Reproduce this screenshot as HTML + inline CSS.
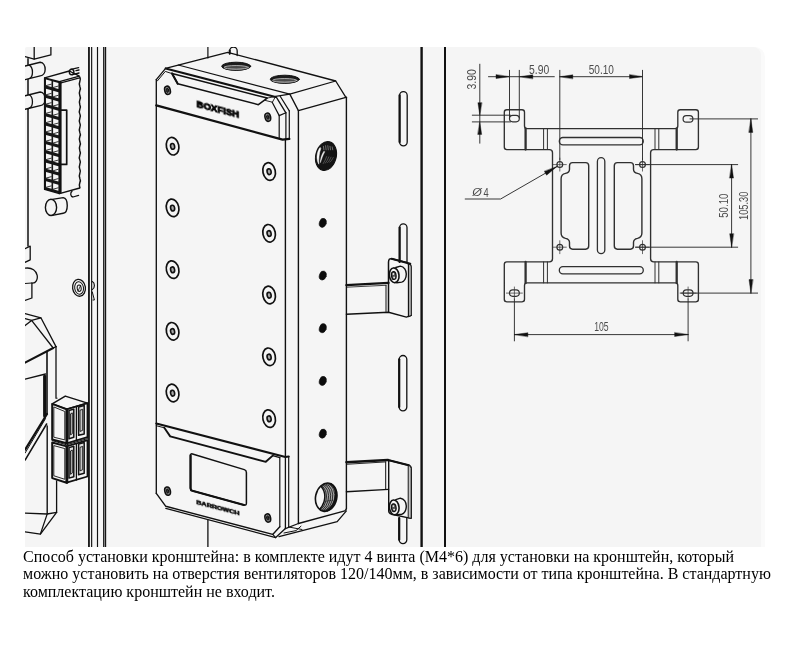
<!DOCTYPE html>
<html><head><meta charset="utf-8">
<style>
html,body{margin:0;padding:0;background:#fff;}
body{width:790px;height:647px;position:relative;overflow:hidden;font-family:"Liberation Serif",serif;}
#bg{position:absolute;left:25px;top:47px;width:740px;height:500px;background:#fafafa;border-radius:2px 10px 0 0;}
#bg2{position:absolute;left:25px;top:47px;width:735.5px;height:500px;background:#f5f5f5;border-radius:2px 8px 0 0;}
#cap{position:absolute;left:23px;top:547.6px;will-change:transform;width:767px;font-size:16px;line-height:17.4px;color:#000;margin:0;white-space:nowrap;}
svg{position:absolute;left:0;top:0;}
</style></head><body>
<div id="bg"></div><div id="bg2"></div>
<p id="cap">Способ установки кронштейна: в комплекте идут 4 винта (M4*6) для установки на кронштейн, который<br>можно установить на отверстия вентиляторов 120/140мм, в зависимости от типа кронштейна. В стандартную<br>комплектацию кронштейн не входит.</p>
<svg width="790" height="647" viewBox="0 0 790 647" fill="none" stroke="#111" stroke-width="1.2" stroke-linecap="round" stroke-linejoin="round">
<clipPath id="imgclip"><rect x="25" y="47" width="740" height="500"/></clipPath>
<g clip-path="url(#imgclip)">
<g id="panel-left">
<line x1="104.65" y1="47" x2="104.65" y2="547" stroke-width="0.8" stroke="#9a9a9a"/>
<line x1="88.95" y1="47" x2="88.95" y2="547" stroke-width="1.8"/>
<line x1="91.65" y1="47" x2="91.65" y2="547" stroke-width="1.15"/>
<line x1="97.5" y1="47" x2="97.5" y2="547" stroke-width="1.15"/>
<line x1="103.7" y1="47" x2="103.7" y2="547" stroke-width="1.2"/>
<line x1="105.6" y1="47" x2="105.6" y2="547" stroke-width="1.15"/>
</g>
<g id="panel-right">
<line x1="421.6" y1="47" x2="421.6" y2="547" stroke-width="2.4"/>
<line x1="445" y1="47" x2="445" y2="547" stroke-width="2.0"/>
<path d="M399.6,95.39999999999998 A3.799999999999983,3.799999999999983 0 0 1 407.2,95.39999999999998 V142.10000000000002 A3.799999999999983,3.799999999999983 0 0 1 399.6,142.10000000000002 Z" stroke-width="1.3"/>
<line x1="399.6" y1="95.39999999999998" x2="399.6" y2="142.10000000000002" stroke-width="2.2"/>
<path d="M399.6,262 V227.5 A3.6999999999999886,3.6999999999999886 0 0 1 407.0,227.5 V262" stroke-width="1.3"/>
<line x1="399.6" y1="227.5" x2="399.6" y2="262" stroke-width="2.2"/>
<path d="M399.2,359.3 A3.8000000000000114,3.8000000000000114 0 0 1 406.8,359.3 V407.09999999999997 A3.8000000000000114,3.8000000000000114 0 0 1 399.2,407.09999999999997 Z" stroke-width="1.3"/>
<line x1="399.2" y1="359.3" x2="399.2" y2="407.09999999999997" stroke-width="2.2"/>
<path d="M399.2,518 V539.8 A3.8000000000000114,3.8000000000000114 0 0 0 406.8,539.8 V518" stroke-width="1.3"/>
<line x1="399.2" y1="518" x2="399.2" y2="539.8" stroke-width="2.2"/>
</g>
<g id="behind">
<line x1="207.9" y1="47" x2="207.9" y2="58" stroke-width="1.2"/>
<path d="M229.7,54 V51 A3.75,3.9 0 0 1 237.2,51 V55.5" stroke-width="1.3"/>
<line x1="229.7" y1="50.5" x2="229.7" y2="53.5" stroke-width="2.0"/>
<line x1="207.9" y1="520.5" x2="207.9" y2="547" stroke-width="1.3"/>
</g>
<g id="box">
<path d="M156.3,79.6 L165.6,68.3 L227.7,52.3 L335.7,81 L345.9,97.3" stroke-width="1.3"/>
<path d="M157.3,81 L165.3,71.4 L172,73.6" stroke-width="1.0"/>
<path d="M178.2,65.05 L289.8,94.1 L335.7,81" stroke-width="1.15"/>
<path d="M165.7,68.4 L275.5,96.9" stroke-width="2.1"/>
<path d="M275.6,96.4 L289.8,94.1" stroke-width="1.2"/>
<path d="M172,73.4 L267.2,98.1 L258.4,104.7 L177.7,83.7 Z" stroke-width="1.5"/>
<path d="M172,73.4 L177.7,83.7" stroke-width="2.0"/>
<path d="M267.2,98.1 L275.6,96.4 M265.2,100.4 L272.4,102.2 L275.6,96.4" stroke-width="0.9"/>
<path d="M276.3,97.2 L285.9,112.8" stroke-width="1.3"/>
<path d="M280.2,96.2 L289.3,110.9" stroke-width="1.2"/>
<path d="M272.2,102.2 L279.2,115.6 L285.9,112.8" stroke-width="1.2"/>
<path d="M289.8,94.1 L298.4,110.6 L345.9,97.3" stroke-width="1.3"/>
<line x1="156.3" y1="79.6" x2="156.3" y2="493.4" stroke-width="1.35"/>
<line x1="279.2" y1="115.6" x2="279.2" y2="138.2" stroke-width="1.2"/>
<line x1="285.9" y1="112.8" x2="285.9" y2="139.2" stroke-width="1.2"/>
<line x1="285.4" y1="139" x2="285.4" y2="457" stroke-width="1.4"/>
<line x1="289.3" y1="110.9" x2="289.3" y2="139.0" stroke-width="1.2"/>
<line x1="298.4" y1="110.6" x2="298.4" y2="523.5" stroke-width="1.4"/>
<line x1="346.4" y1="97.3" x2="346.4" y2="508.8" stroke-width="1.4"/>
<path d="M156.3,105.3 L282.6,139.6 L289.3,138.8" stroke-width="2.3"/>
<ellipse cx="236.2" cy="66.3" rx="14.5" ry="4.1" stroke-width="1.0" fill="#1c1c1c"/>
<ellipse cx="236.2" cy="67.39999999999999" rx="12.2" ry="1.9" stroke-width="0.8" fill="#4a4a4a" stroke="#c4c4c4"/>
<path d="M228.2,68.5 A11,1.6 0 0 0 244.2,68.5" stroke-width="0.6" stroke="#9a9a9a"/>
<ellipse cx="284.8" cy="79.3" rx="14.5" ry="4.1" stroke-width="1.0" fill="#1c1c1c"/>
<ellipse cx="284.8" cy="80.39999999999999" rx="12.2" ry="1.9" stroke-width="0.8" fill="#4a4a4a" stroke="#c4c4c4"/>
<path d="M276.8,81.5 A11,1.6 0 0 0 292.8,81.5" stroke-width="0.6" stroke="#9a9a9a"/>
<ellipse cx="167.5" cy="90.3" rx="2.8" ry="4.2" stroke-width="1.5" fill="#8a8a8a" transform="rotate(-14 167.5 90.3)"/>
<ellipse cx="167.5" cy="90.3" rx="1.2" ry="2.1" stroke-width="0.9" fill="#333" transform="rotate(-14 167.5 90.3)"/>
<ellipse cx="267.8" cy="117.2" rx="2.8" ry="4.2" stroke-width="1.5" fill="#8a8a8a" transform="rotate(-14 267.8 117.2)"/>
<ellipse cx="267.8" cy="117.2" rx="1.2" ry="2.1" stroke-width="0.9" fill="#333" transform="rotate(-14 267.8 117.2)"/>
<ellipse cx="167.6" cy="491.1" rx="2.8" ry="4.2" stroke-width="1.5" fill="#8a8a8a" transform="rotate(-14 167.6 491.1)"/>
<ellipse cx="167.6" cy="491.1" rx="1.2" ry="2.1" stroke-width="0.9" fill="#333" transform="rotate(-14 167.6 491.1)"/>
<ellipse cx="267.8" cy="518" rx="2.8" ry="4.2" stroke-width="1.5" fill="#8a8a8a" transform="rotate(-14 267.8 518)"/>
<ellipse cx="267.8" cy="518" rx="1.2" ry="2.1" stroke-width="0.9" fill="#333" transform="rotate(-14 267.8 518)"/>
<ellipse cx="172.6" cy="146.2" rx="6.2" ry="8.9" stroke-width="1.7" transform="rotate(-12 172.6 146.2)"/>
<ellipse cx="172.6" cy="146.39999999999998" rx="2.0" ry="2.9" stroke-width="1.6" fill="#aaa" transform="rotate(-12 172.6 146.39999999999998)"/>
<ellipse cx="172.6" cy="207.9" rx="6.2" ry="8.9" stroke-width="1.7" transform="rotate(-12 172.6 207.9)"/>
<ellipse cx="172.6" cy="208.1" rx="2.0" ry="2.9" stroke-width="1.6" fill="#aaa" transform="rotate(-12 172.6 208.1)"/>
<ellipse cx="172.6" cy="269.6" rx="6.2" ry="8.9" stroke-width="1.7" transform="rotate(-12 172.6 269.6)"/>
<ellipse cx="172.6" cy="269.8" rx="2.0" ry="2.9" stroke-width="1.6" fill="#aaa" transform="rotate(-12 172.6 269.8)"/>
<ellipse cx="172.6" cy="331.3" rx="6.2" ry="8.9" stroke-width="1.7" transform="rotate(-12 172.6 331.3)"/>
<ellipse cx="172.6" cy="331.5" rx="2.0" ry="2.9" stroke-width="1.6" fill="#aaa" transform="rotate(-12 172.6 331.5)"/>
<ellipse cx="172.6" cy="393.0" rx="6.2" ry="8.9" stroke-width="1.7" transform="rotate(-12 172.6 393.0)"/>
<ellipse cx="172.6" cy="393.2" rx="2.0" ry="2.9" stroke-width="1.6" fill="#aaa" transform="rotate(-12 172.6 393.2)"/>
<ellipse cx="269.1" cy="171.5" rx="6.2" ry="8.9" stroke-width="1.7" transform="rotate(-12 269.1 171.5)"/>
<ellipse cx="269.1" cy="171.7" rx="2.0" ry="2.9" stroke-width="1.6" fill="#aaa" transform="rotate(-12 269.1 171.7)"/>
<ellipse cx="269.1" cy="233.3" rx="6.2" ry="8.9" stroke-width="1.7" transform="rotate(-12 269.1 233.3)"/>
<ellipse cx="269.1" cy="233.5" rx="2.0" ry="2.9" stroke-width="1.6" fill="#aaa" transform="rotate(-12 269.1 233.5)"/>
<ellipse cx="269.1" cy="295.0" rx="6.2" ry="8.9" stroke-width="1.7" transform="rotate(-12 269.1 295.0)"/>
<ellipse cx="269.1" cy="295.2" rx="2.0" ry="2.9" stroke-width="1.6" fill="#aaa" transform="rotate(-12 269.1 295.2)"/>
<ellipse cx="269.1" cy="356.8" rx="6.2" ry="8.9" stroke-width="1.7" transform="rotate(-12 269.1 356.8)"/>
<ellipse cx="269.1" cy="357.0" rx="2.0" ry="2.9" stroke-width="1.6" fill="#aaa" transform="rotate(-12 269.1 357.0)"/>
<ellipse cx="269.1" cy="418.6" rx="6.2" ry="8.9" stroke-width="1.7" transform="rotate(-12 269.1 418.6)"/>
<ellipse cx="269.1" cy="418.8" rx="2.0" ry="2.9" stroke-width="1.6" fill="#aaa" transform="rotate(-12 269.1 418.8)"/>
<ellipse cx="322.8" cy="222.8" rx="3.4" ry="4.6" stroke-width="0.6" fill="#0c0c0c" transform="rotate(18 322.8 222.8)"/>
<ellipse cx="322.8" cy="275.5" rx="3.4" ry="4.6" stroke-width="0.6" fill="#0c0c0c" transform="rotate(18 322.8 275.5)"/>
<ellipse cx="322.8" cy="328.2" rx="3.4" ry="4.6" stroke-width="0.6" fill="#0c0c0c" transform="rotate(18 322.8 328.2)"/>
<ellipse cx="322.8" cy="380.9" rx="3.4" ry="4.6" stroke-width="0.6" fill="#0c0c0c" transform="rotate(18 322.8 380.9)"/>
<ellipse cx="322.8" cy="433.6" rx="3.4" ry="4.6" stroke-width="0.6" fill="#0c0c0c" transform="rotate(18 322.8 433.6)"/>
<ellipse cx="326" cy="156" rx="10.3" ry="14.6" stroke-width="1.0" fill="#141414" transform="rotate(14 326 156)"/>
<path d="M319.8,147.8 C316.4,153 316.2,159.5 318.8,164.2 C318.6,159 319,153 320.8,148.4 Z" stroke-width="0.5" fill="#fafafa" stroke="#fafafa"/>
<path d="M323.8,151.4 C321.4,155 320.4,159 320.4,162.6 C321.6,159 322.8,155 324.6,152 Z" stroke-width="0.5" fill="#f0f0f0" stroke="#f0f0f0"/>
<path d="M323.4,146.3 L323.9,149.8" stroke-width="0.55" stroke="#b5b5b5"/>
<path d="M325.59999999999997,145.70000000000002 L326.09999999999997,149.8" stroke-width="0.55" stroke="#b5b5b5"/>
<path d="M327.79999999999995,145.70000000000002 L328.29999999999995,149.8" stroke-width="0.55" stroke="#b5b5b5"/>
<path d="M330.0,146.3 L330.5,149.8" stroke-width="0.55" stroke="#b5b5b5"/>
<path d="M332.2,146.9 L332.7,149.8" stroke-width="0.55" stroke="#b5b5b5"/>
<path d="M326.6,156.6 C325.8,159 324.6,161.5 323.20000000000005,163.6" stroke-width="0.5" stroke="#8a8a8a"/>
<path d="M328.8,156.9 C328.0,159 326.8,161.5 325.40000000000003,163.1" stroke-width="0.5" stroke="#8a8a8a"/>
<path d="M331.0,157.2 C330.2,159 329.0,161.5 327.6,162.6" stroke-width="0.5" stroke="#8a8a8a"/>
<path d="M333.20000000000005,157.5 C332.40000000000003,159 331.20000000000005,161.5 329.80000000000007,162.1" stroke-width="0.5" stroke="#8a8a8a"/>
<clipPath id="cp2"><ellipse cx="326.2" cy="497.2" rx="10.6" ry="14.3" transform="rotate(12 326.2 497.2)"/></clipPath>
<g clip-path="url(#cp2)">
<ellipse cx="326.2" cy="497.2" rx="10.6" ry="14.3" stroke-width="0.1" fill="#a4a4a4" transform="rotate(12 326.2 497.2)"/>
<ellipse cx="313.8" cy="498.8" rx="10.6" ry="14.6" stroke-width="1.4" fill="#f5f5f5" transform="rotate(16 313.8 498.8)"/>
<ellipse cx="324.09999999999997" cy="497.45" rx="10.6" ry="14.3" stroke-width="0.8" stroke="#1a1a1a" transform="rotate(12.6 324.09999999999997 497.45)"/>
<ellipse cx="322.0" cy="497.7" rx="10.6" ry="14.3" stroke-width="0.8" stroke="#1a1a1a" transform="rotate(13.2 322.0 497.7)"/>
<ellipse cx="319.9" cy="497.95" rx="10.6" ry="14.3" stroke-width="0.8" stroke="#1a1a1a" transform="rotate(13.8 319.9 497.95)"/>
<ellipse cx="317.8" cy="498.2" rx="10.6" ry="14.3" stroke-width="0.8" stroke="#1a1a1a" transform="rotate(14.4 317.8 498.2)"/>
<ellipse cx="315.7" cy="498.45" rx="10.6" ry="14.3" stroke-width="0.8" stroke="#1a1a1a" transform="rotate(15.0 315.7 498.45)"/>
</g>
<ellipse cx="326.2" cy="497.2" rx="10.6" ry="14.3" stroke-width="1.6" transform="rotate(12 326.2 497.2)"/>
<path d="M330.7,483.8 C338.7,489.2 337.7,503.2 327.2,510.8" stroke-width="2.0"/>
<path d="M156.3,423.5 L285.4,457 L288.7,456.5" stroke-width="2.1"/>
<path d="M156.3,425.7 L164.3,427.8" stroke-width="1.0"/>
<path d="M164.3,427.8 L170.2,436.4 L265.8,461.8 L272.7,455.6" stroke-width="1.9"/>
<path d="M272.7,455.6 L279.8,457.6" stroke-width="1.2"/>
<line x1="279.8" y1="457.6" x2="279.8" y2="526.8" stroke-width="1.2"/>
<line x1="285.4" y1="457" x2="285.4" y2="528.6" stroke-width="1.3"/>
<line x1="288.7" y1="456.5" x2="288.7" y2="527" stroke-width="1.2"/>
<path d="M156.3,493.4 L165.8,506.3 L272.7,534.4 L279.8,526.8" stroke-width="1.4"/>
<path d="M165.8,508.4 L275.7,537.6 L285.4,528.6" stroke-width="1.3"/>
<path d="M272.7,534.4 L275.7,537.6" stroke-width="1.2"/>
<path d="M285.4,528.6 L298.4,523.5" stroke-width="1.2"/>
<path d="M279,536.6 L337.2,521.6 L346.4,510.9" stroke-width="1.3"/>
<path d="M298.4,523.5 L344.8,510.9 L346.4,508.8" stroke-width="1.3"/>
<path d="M288.7,527 L302,529.5 M284,533 L296,530.6 L301,526.2" stroke-width="1.0"/>
<path d="M192.5,454.0 L244.3,469.6 Q246.4,470.3 246.4,472.5 L246.4,503.2 Q246.4,505.6 244,505.0 L192.3,490.8 Q190.4,490.2 190.4,488.2 L190.4,455.4 Q190.4,453.4 192.5,454.0 Z" stroke-width="1.5"/>
<path d="M190.6,455.4 V488.2 Q190.6,490.2 192.3,490.8 L244,505" stroke-width="2.2"/>
</g>
<g id="boxtext" opacity="0.99" stroke="none" fill="#111" font-family="&quot;Liberation Sans&quot;,sans-serif" font-weight="bold">
<text transform="translate(196.6,106.9) skewY(14.4)" font-size="9.1" textLength="42.6" lengthAdjust="spacingAndGlyphs" stroke="#000" stroke-width="0.9" stroke-linejoin="miter">BOXFISH</text>
<text transform="translate(196.4,504.0) skewY(14.7)" font-size="4.7" textLength="43" lengthAdjust="spacingAndGlyphs" stroke="#111" stroke-width="0.55">BARROWCH</text>
</g>
<g id="brackets">
<path d="M346.4,285.1 L388.5,282.9" stroke-width="2.3"/>
<path d="M346.4,287.2 L386,285.3" stroke-width="0.8"/>
<line x1="386" y1="285.3" x2="386" y2="311.5" stroke-width="1.0"/>
<path d="M346.4,314.3 L388.5,312.2 L406.4,317.1 L411.2,315.4" stroke-width="1.4"/>
<path d="M388.5,312 L388.5,262.2 Q388.6,258.2 391.6,258.7 L407.2,262.8 Q408.6,263.4 408.6,265.4 L408.6,316.4" stroke-width="1.5"/>
<path d="M391.6,258.7 L410.3,263.7" stroke-width="2.0"/>
<path d="M408.6,263.6 Q411.3,264.4 411.3,266.8 L411.3,315.4 L408.6,316.4 Z" stroke-width="1.1" fill="#c4c4c4"/>
<path d="M395.8,267.5 L400.4,266.1 C404.2,266.5 406.3,270.3 406.3,273.90000000000003 C406.3,278.3 404.2,281.7 401.7,282.1 L396.7,282.7" stroke-width="1.4"/>
<ellipse cx="394.2" cy="275.3" rx="4.8" ry="7.4" stroke-width="1.6" fill="#f5f5f5" transform="rotate(-6 394.2 275.3)"/>
<ellipse cx="393.8" cy="275.6" rx="2.3" ry="3.9" stroke-width="1.2" fill="#555" transform="rotate(-6 393.8 275.6)"/>
<circle cx="393.4" cy="274.0" r="0.9" fill="#eee" stroke="none"/><circle cx="394.09999999999997" cy="277.5" r="0.9" fill="#eee" stroke="none"/>
<path d="M346.4,462.3 L388,460.0" stroke-width="2.4"/>
<path d="M388,460.0 L408.8,465.3" stroke-width="2.2"/>
<path d="M346.4,464.3 L385.7,461.9" stroke-width="0.9"/>
<line x1="385.7" y1="461.9" x2="385.7" y2="488.9" stroke-width="1.0"/>
<path d="M346.4,491.8 L388.6,489.4" stroke-width="1.4"/>
<path d="M388,460.0 L408.6,465.3 Q411.2,466.0 411.2,468.6 L411.2,518.3 L408.6,517.9 L391.4,514.2 Q388.7,513.4 388.7,510.8 L388.7,460" stroke-width="1.4"/>
<path d="M408.6,465.3 Q411.2,466.0 411.2,468.6 L411.2,518.3 L408.6,517.9 Z" stroke-width="1.0" fill="#c4c4c4"/>
<path d="M395.8,499.59999999999997 L400.4,498.2 C404.2,498.59999999999997 406.3,502.4 406.3,506.0 C406.3,510.4 404.2,513.8 401.7,514.1999999999999 L396.7,514.8" stroke-width="1.4"/>
<ellipse cx="394.2" cy="507.4" rx="4.8" ry="7.4" stroke-width="1.6" fill="#f5f5f5" transform="rotate(-6 394.2 507.4)"/>
<ellipse cx="393.8" cy="507.7" rx="2.3" ry="3.9" stroke-width="1.2" fill="#555" transform="rotate(-6 393.8 507.7)"/>
<circle cx="393.4" cy="506.09999999999997" r="0.9" fill="#eee" stroke="none"/><circle cx="394.09999999999997" cy="509.59999999999997" r="0.9" fill="#eee" stroke="none"/>
</g>
<g id="pcb">
<path d="M34.2,47 V59.2 L50.9,54.9 V47" stroke-width="1.3"/>
<path d="M25,56.7 L34.2,59.2" stroke-width="1.3"/>
<line x1="28" y1="58.8" x2="28" y2="64.5" stroke-width="1.5"/>
<line x1="28" y1="79.6" x2="28" y2="94.5" stroke-width="1.5"/>
<line x1="28" y1="109.3" x2="28" y2="246" stroke-width="1.5"/>
<path d="M25,66 L40.2,62.3 C46.8,63 46.8,75.4 40.2,75.9 L25,79.6" stroke-width="1.4"/>
<path d="M29.3,65.1 C33.5,67.5 33.5,77 29.3,78.5" stroke-width="1.3"/>
<path d="M25,95.7 L40.2,92.0 C46.8,92.7 46.8,105.10000000000001 40.2,105.60000000000001 L25,109.3" stroke-width="1.4"/>
<path d="M29.3,94.8 C33.5,97.2 33.5,106.7 29.3,108.2" stroke-width="1.3"/>
<path d="M52.3,199.4 L63.2,197.6 C68.6,198.4 68.6,212.4 63.2,213.2 L52.3,215.4" stroke-width="1.4"/>
<ellipse cx="51" cy="207.4" rx="5.6" ry="8.1" stroke-width="1.4"/>
<path d="M25,248.7 L30.2,246.2 V259.8 L25,262.3" stroke-width="1.3"/>
<path d="M25,268.2 C40,266 40,284 31.9,283 V298 L25,300.4" stroke-width="1.3"/>
<path d="M25,283.5 L31.9,283" stroke-width="1.0"/>
<ellipse cx="79" cy="287.8" rx="6.4" ry="8.5" stroke-width="1.3" transform="rotate(-8 79 287.8)"/>
<ellipse cx="79.1" cy="288" rx="4.4" ry="6.2" stroke-width="1.0" transform="rotate(-8 79.1 288)"/>
<ellipse cx="79.2" cy="288.2" rx="2.0" ry="3.2" stroke-width="1.0" transform="rotate(-8 79.2 288.2)"/>
<line x1="78" y1="291" x2="80.6" y2="285.6" stroke-width="0.8"/>
<path d="M92.3,281.5 A3,4.2 0 0 1 92.3,289.5" stroke-width="1.2"/>
<path d="M92.3,292 L94.4,300 L93,300" stroke-width="1.0"/>
<path d="M44.6,77.9 L59.4,81.7 L59.4,193.6 L44.6,189.4 Z" fill="#161616" stroke="#111" stroke-width="1.4"/>
<path d="M46.0,79.6 L51.5,81.0 L51.5,87.0 L46.0,85.6 Z" fill="#f5f5f5" stroke="none"/>
<path d="M46.0,85.6 L51.2,84.2" stroke="#222" stroke-width="0.9"/>
<path d="M53.1,81.5 L58.4,82.9 L58.4,88.9 L53.1,87.5 Z" fill="#f5f5f5" stroke="none"/>
<path d="M53.2,87.5 L58.2,86.1" stroke="#222" stroke-width="0.9"/>
<path d="M46.0,88.8 L51.5,90.2 L51.5,96.2 L46.0,94.8 Z" fill="#f5f5f5" stroke="none"/>
<path d="M46.0,94.8 L51.2,93.4" stroke="#222" stroke-width="0.9"/>
<path d="M53.1,90.8 L58.4,92.2 L58.4,98.2 L53.1,96.8 Z" fill="#f5f5f5" stroke="none"/>
<path d="M53.2,96.8 L58.2,95.3" stroke="#222" stroke-width="0.9"/>
<path d="M46.0,98.1 L51.5,99.5 L51.5,105.5 L46.0,104.1 Z" fill="#f5f5f5" stroke="none"/>
<path d="M46.0,104.1 L51.2,102.7" stroke="#222" stroke-width="0.9"/>
<path d="M53.1,100.0 L58.4,101.4 L58.4,107.4 L53.1,106.0 Z" fill="#f5f5f5" stroke="none"/>
<path d="M53.2,106.0 L58.2,104.6" stroke="#222" stroke-width="0.9"/>
<path d="M46.0,107.3 L51.5,108.8 L51.5,114.8 L46.0,113.3 Z" fill="#f5f5f5" stroke="none"/>
<path d="M46.0,113.3 L51.2,111.9" stroke="#222" stroke-width="0.9"/>
<path d="M53.1,109.2 L58.4,110.7 L58.4,116.7 L53.1,115.2 Z" fill="#f5f5f5" stroke="none"/>
<path d="M53.2,115.2 L58.2,113.8" stroke="#222" stroke-width="0.9"/>
<path d="M46.0,116.6 L51.5,118.0 L51.5,124.0 L46.0,122.6 Z" fill="#f5f5f5" stroke="none"/>
<path d="M46.0,122.6 L51.2,121.2" stroke="#222" stroke-width="0.9"/>
<path d="M53.1,118.5 L58.4,119.9 L58.4,125.9 L53.1,124.5 Z" fill="#f5f5f5" stroke="none"/>
<path d="M53.2,124.5 L58.2,123.1" stroke="#222" stroke-width="0.9"/>
<path d="M46.0,125.8 L51.5,127.2 L51.5,133.2 L46.0,131.8 Z" fill="#f5f5f5" stroke="none"/>
<path d="M46.0,131.8 L51.2,130.4" stroke="#222" stroke-width="0.9"/>
<path d="M53.1,127.8 L58.4,129.2 L58.4,135.2 L53.1,133.8 Z" fill="#f5f5f5" stroke="none"/>
<path d="M53.2,133.8 L58.2,132.3" stroke="#222" stroke-width="0.9"/>
<path d="M46.0,135.1 L51.5,136.5 L51.5,142.5 L46.0,141.1 Z" fill="#f5f5f5" stroke="none"/>
<path d="M46.0,141.1 L51.2,139.7" stroke="#222" stroke-width="0.9"/>
<path d="M53.1,137.0 L58.4,138.4 L58.4,144.4 L53.1,143.0 Z" fill="#f5f5f5" stroke="none"/>
<path d="M53.2,143.0 L58.2,141.6" stroke="#222" stroke-width="0.9"/>
<path d="M46.0,144.3 L51.5,145.8 L51.5,151.8 L46.0,150.3 Z" fill="#f5f5f5" stroke="none"/>
<path d="M46.0,150.3 L51.2,148.9" stroke="#222" stroke-width="0.9"/>
<path d="M53.1,146.2 L58.4,147.7 L58.4,153.7 L53.1,152.2 Z" fill="#f5f5f5" stroke="none"/>
<path d="M53.2,152.2 L58.2,150.8" stroke="#222" stroke-width="0.9"/>
<path d="M46.0,153.6 L51.5,155.0 L51.5,161.0 L46.0,159.6 Z" fill="#f5f5f5" stroke="none"/>
<path d="M46.0,159.6 L51.2,158.2" stroke="#222" stroke-width="0.9"/>
<path d="M53.1,155.5 L58.4,156.9 L58.4,162.9 L53.1,161.5 Z" fill="#f5f5f5" stroke="none"/>
<path d="M53.2,161.5 L58.2,160.1" stroke="#222" stroke-width="0.9"/>
<path d="M46.0,162.8 L51.5,164.2 L51.5,170.2 L46.0,168.8 Z" fill="#f5f5f5" stroke="none"/>
<path d="M46.0,168.8 L51.2,167.4" stroke="#222" stroke-width="0.9"/>
<path d="M53.1,164.8 L58.4,166.2 L58.4,172.2 L53.1,170.8 Z" fill="#f5f5f5" stroke="none"/>
<path d="M53.2,170.8 L58.2,169.3" stroke="#222" stroke-width="0.9"/>
<path d="M46.0,172.1 L51.5,173.5 L51.5,179.5 L46.0,178.1 Z" fill="#f5f5f5" stroke="none"/>
<path d="M46.0,178.1 L51.2,176.7" stroke="#222" stroke-width="0.9"/>
<path d="M53.1,174.0 L58.4,175.4 L58.4,181.4 L53.1,180.0 Z" fill="#f5f5f5" stroke="none"/>
<path d="M53.2,180.0 L58.2,178.6" stroke="#222" stroke-width="0.9"/>
<path d="M46.0,181.3 L51.5,182.8 L51.5,188.8 L46.0,187.3 Z" fill="#f5f5f5" stroke="none"/>
<path d="M46.0,187.3 L51.2,185.9" stroke="#222" stroke-width="0.9"/>
<path d="M53.1,183.2 L58.4,184.7 L58.4,190.7 L53.1,189.2 Z" fill="#f5f5f5" stroke="none"/>
<path d="M53.2,189.2 L58.2,187.8" stroke="#222" stroke-width="0.9"/>
<path d="M44.6,77.9 L69.3,71 L79.4,76.2 L59.4,81.7" stroke-width="1.4"/>
<path d="M60,83.2 L79.6,77.8" stroke-width="1.2"/>
<line x1="60.8" y1="82" x2="60.8" y2="193" stroke-width="1.6"/>
<path d="M79.8,77 q1.1,2.3 0,4.6 q-0.9,2.3 0,4.6 q1.1,2.3 0,4.6 q-0.9,2.3 0,4.6 q1.1,2.3 0,4.6 q-0.9,2.3 0,4.6 q1.1,2.3 0,4.6 q-0.9,2.3 0,4.6 q1.1,2.3 0,4.6 q-0.9,2.3 0,4.6 q1.1,2.3 0,4.6 q-0.9,2.3 0,4.6 q1.1,2.3 0,4.6 q-0.9,2.3 0,4.6 q1.1,2.3 0,4.6 q-0.9,2.3 0,4.6 q1.1,2.3 0,4.6 q-0.9,2.3 0,4.6 q1.1,2.3 0,4.6 q-0.9,2.3 0,4.6 q1.1,2.3 0,4.6 q-0.9,2.3 0,4.6 q1.1,2.3 0,4.6 q-0.9,2.3 0,4.6" stroke-width="1.5"/>
<path d="M59.4,193.6 L79.8,188" stroke-width="1.5"/>
<path d="M61.2,110.2 H66.7 V164.4 H61.2" stroke-width="1.7"/>
<path d="M71,69.4 L78.6,67.6 M72.6,74.6 L79,73 M76,70.6 L79,70 " stroke-width="1.4"/>
<ellipse cx="71.6" cy="72" rx="2.3" ry="2.8" stroke-width="1.4"/>
<path d="M72,191.2 C70,193 70.4,196.6 73,197 L78.6,195.4" stroke-width="1.3"/>
<path d="M25.1,313.6 L40.9,317.8 L56,346.6" stroke-width="1.3"/>
<path d="M25.1,318.6 L31.6,320.4 L40.9,317.8" stroke-width="1.2"/>
<path d="M25.1,325.6 L31.6,320.4 L53.2,348 L56,346.6" stroke-width="1.3"/>
<path d="M25.1,362.6 L53.2,348" stroke-width="2.0"/>
<line x1="56" y1="346.6" x2="56" y2="398.2" stroke-width="1.3"/>
<line x1="47" y1="352.6" x2="47" y2="414" stroke-width="1.6"/>
<path d="M25.1,379.2 L45.5,374" stroke-width="1.3"/>
<line x1="44.6" y1="376" x2="44.6" y2="416" stroke-width="3.0"/>
<path d="M47,414 L25.1,449.6" stroke-width="2.2"/>
<path d="M45.5,418.6 L25.1,453" stroke-width="1.0"/>
<path d="M46.6,424 L25.1,460" stroke-width="1.5"/>
<line x1="47.2" y1="426" x2="47.2" y2="513.4" stroke-width="1.4"/>
<line x1="56.6" y1="480.8" x2="56.6" y2="512.3" stroke-width="1.3"/>
<path d="M25.1,513.1 L47.2,514 L56.6,512.3" stroke-width="1.3"/>
<path d="M47.2,514 L40.4,534" stroke-width="1.2"/>
<path d="M56.6,512.3 L40.4,534.2 L25.1,531.8" stroke-width="1.3"/>
<path d="M52.2,442.5 L66.6,446.4 L66.6,482.7 L52.2,478.1 Z" stroke-width="2.0" fill="#f5f5f5"/>
<path d="M66.6,446.4 L87.5,440.2 L87.5,476.5 L66.6,482.7 Z" stroke-width="1.8" fill="#f5f5f5"/>
<line x1="67.19999999999999" y1="446.4" x2="67.19999999999999" y2="482.7" stroke-width="2.2"/>
<path d="M54.2,445.7 L64.8,448.59999999999997 L64.8,479.3 L54.2,475.90000000000003 Z" stroke-width="0.9"/>
<path d="M69.0,447.59999999999997 L73.8,446.2 V476.7 L69.0,478.09999999999997 Z" stroke-width="1.5" fill="#e0e0e0"/>
<path d="M70.8,450.79999999999995 L72.3,449.99999999999994 V473.09999999999997 L70.8,474.09999999999997 Z" stroke-width="0.9" fill="#c8c8c8"/>
<path d="M78.6,444.0 L84.2,442.6 V473.3 L78.6,474.7 Z" stroke-width="1.5" fill="#e0e0e0"/>
<path d="M80.39999999999999,447.2 L82.7,446.4 V469.7 L80.39999999999999,470.7 Z" stroke-width="0.9" fill="#c8c8c8"/>
<line x1="76.4" y1="443.59999999999997" x2="76.4" y2="480.09999999999997" stroke-width="1.3"/>
<path d="M52.2,440.6 L66.6,444.8 L87.5,438.6" stroke-width="1.0"/>
<path d="M52.2,403.9 L65.3,396.09999999999997 L87.5,403.1 L66.6,409.3 Z" stroke-width="1.5" fill="#f5f5f5"/>
<path d="M52.2,403.9 L66.6,409.3 L66.6,443.3 L52.2,439.5 Z" stroke-width="2.0" fill="#f5f5f5"/>
<path d="M66.6,409.3 L87.5,403.1 L87.5,437.1 L66.6,443.3 Z" stroke-width="1.8" fill="#f5f5f5"/>
<line x1="67.19999999999999" y1="409.3" x2="67.19999999999999" y2="443.3" stroke-width="2.2"/>
<path d="M54.2,407.09999999999997 L64.8,411.5 L64.8,439.90000000000003 L54.2,437.3 Z" stroke-width="0.9"/>
<path d="M69.0,410.5 L73.8,409.1 V437.3 L69.0,438.7 Z" stroke-width="1.5" fill="#e0e0e0"/>
<path d="M70.8,413.7 L72.3,412.9 V433.7 L70.8,434.7 Z" stroke-width="0.9" fill="#c8c8c8"/>
<path d="M78.6,406.90000000000003 L84.2,405.50000000000006 V433.90000000000003 L78.6,435.3 Z" stroke-width="1.5" fill="#e0e0e0"/>
<path d="M80.39999999999999,410.1 L82.7,409.3 V430.3 L80.39999999999999,431.3 Z" stroke-width="0.9" fill="#c8c8c8"/>
<line x1="76.4" y1="406.5" x2="76.4" y2="440.7" stroke-width="1.3"/>
<path d="M57.1,398.2 L56.6,398.2" stroke-width="1.0"/>
</g>
<g id="dwg" stroke="#303030" stroke-width="1.15">
<path d="M506.8,109.7 H522.0 Q524.5,109.7 524.5,112.2 V126.1 Q524.5,128.6 527.0,128.6 H675.3 Q677.8,128.6 677.8,126.1 V112.2 Q677.8,109.7 680.3,109.7 H695.9 Q698.4,109.7 698.4,112.2 V147.1 Q698.4,149.6 695.9,149.6 H653.7 Q650.6,149.6 650.6,152.7 V258.79999999999995 Q650.6,261.9 653.7,261.9 H695.9 Q698.4,261.9 698.4,264.4 V299.3 Q698.4,301.8 695.9,301.8 H680.3 Q677.8,301.8 677.8,299.3 V285.4 Q677.8,282.9 675.3,282.9 H527.0 Q524.5,282.9 524.5,285.4 V299.3 Q524.5,301.8 522.0,301.8 H506.8 Q504.3,301.8 504.3,299.3 V264.4 Q504.3,261.9 506.8,261.9 H549.4 Q552.5,261.9 552.5,258.79999999999995 V152.7 Q552.5,149.6 549.4,149.6 H506.8 Q504.3,149.6 504.3,147.1 V112.2 Q504.3,109.7 506.8,109.7 Z" stroke-width="1.35"/>
<line x1="543.6" y1="128.6" x2="543.6" y2="149.6" stroke-width="1.0"/>
<line x1="547.4" y1="128.6" x2="547.4" y2="149.6" stroke-width="1.0"/>
<line x1="655" y1="128.6" x2="655" y2="149.6" stroke-width="1.0"/>
<line x1="658.8" y1="128.6" x2="658.8" y2="149.6" stroke-width="1.0"/>
<line x1="525.6" y1="128.6" x2="525.6" y2="149.6" stroke-width="2.3"/>
<line x1="676.7" y1="128.6" x2="676.7" y2="149.6" stroke-width="2.3"/>
<line x1="543.6" y1="261.9" x2="543.6" y2="282.9" stroke-width="1.0"/>
<line x1="547.4" y1="261.9" x2="547.4" y2="282.9" stroke-width="1.0"/>
<line x1="655" y1="261.9" x2="655" y2="282.9" stroke-width="1.0"/>
<line x1="658.8" y1="261.9" x2="658.8" y2="282.9" stroke-width="1.0"/>
<line x1="525.6" y1="261.9" x2="525.6" y2="282.9" stroke-width="2.3"/>
<line x1="676.7" y1="261.9" x2="676.7" y2="282.9" stroke-width="2.3"/>
<rect x="509.5" y="115.39999999999999" width="9.8" height="6.4" rx="3.2" stroke-width="1.2"/>
<rect x="683.1" y="115.7" width="9.8" height="6.4" rx="3.2" stroke-width="1.2"/>
<rect x="509.5" y="289.90000000000003" width="9.8" height="6.4" rx="3.2" stroke-width="1.2"/>
<rect x="683.2" y="289.90000000000003" width="9.8" height="6.4" rx="3.2" stroke-width="1.2"/>
<line x1="506.4" y1="293.1" x2="522.4" y2="293.1" stroke-width="0.7"/>
<line x1="514.4" y1="287" x2="514.4" y2="299" stroke-width="0.7"/>
<line x1="680.1" y1="293.1" x2="696.1" y2="293.1" stroke-width="0.7"/>
<line x1="688.1" y1="287" x2="688.1" y2="299" stroke-width="0.7"/>
<path d="M562.9499999999999,137.5 H639.65 A3.6500000000000057,3.6500000000000057 0 0 1 639.65,144.8 H562.9499999999999 A3.6500000000000057,3.6500000000000057 0 0 1 562.9499999999999,137.5 Z" stroke-width="1.3"/>
<path d="M562.9,266.7 H639.6999999999999 A3.5999999999999943,3.5999999999999943 0 0 1 639.6999999999999,273.9 H562.9 A3.5999999999999943,3.5999999999999943 0 0 1 562.9,266.7 Z" stroke-width="1.3"/>
<path d="M597.4,161.4 A3.7,3.7 0 0 1 604.8,161.4 V250 A3.7,3.7 0 0 1 597.4,250 Z" stroke-width="1.3"/>
<path d="M572.6,162.6 H585.6 Q588.7,162.6 588.7,165.7 V246.1 Q588.7,249.2 585.6,249.2 H572.6 Q569.5,249.2 569.5,246.1 V242.6 Q569.5,239.1 565.5,238.4 Q561.1,237.4 561.1,233 V178.8 Q561.1,174.4 565.5,173.4 Q569.5,172.7 569.5,169.2 V165.7 Q569.5,162.6 572.6,162.6 Z" stroke-width="1.4"/>
<path d="M572.6,162.6 H585.6 Q588.7,162.6 588.7,165.7 V246.1 Q588.7,249.2 585.6,249.2 H572.6 Q569.5,249.2 569.5,246.1 V242.6 Q569.5,239.1 565.5,238.4 Q561.1,237.4 561.1,233 V178.8 Q561.1,174.4 565.5,173.4 Q569.5,172.7 569.5,169.2 V165.7 Q569.5,162.6 572.6,162.6 Z" stroke-width="1.4" transform="translate(1203,0) scale(-1,1)"/>
<circle cx="559.8" cy="164.6" r="2.9" stroke-width="1.2"/>
<line x1="553.3" y1="164.6" x2="566.3" y2="164.6" stroke-width="0.7"/>
<line x1="559.8" y1="158.1" x2="559.8" y2="171.1" stroke-width="0.7"/>
<circle cx="559.8" cy="247.2" r="2.9" stroke-width="1.2"/>
<line x1="553.3" y1="247.2" x2="566.3" y2="247.2" stroke-width="0.7"/>
<line x1="559.8" y1="240.7" x2="559.8" y2="253.7" stroke-width="0.7"/>
<circle cx="642.5" cy="164.6" r="2.9" stroke-width="1.2"/>
<line x1="636.0" y1="164.6" x2="649.0" y2="164.6" stroke-width="0.7"/>
<line x1="642.5" y1="158.1" x2="642.5" y2="171.1" stroke-width="0.7"/>
<circle cx="642.5" cy="247.2" r="2.9" stroke-width="1.2"/>
<line x1="636.0" y1="247.2" x2="649.0" y2="247.2" stroke-width="0.7"/>
<line x1="642.5" y1="240.7" x2="642.5" y2="253.7" stroke-width="0.7"/>
</g>
<g id="dims" stroke="#2c2c2c" stroke-width="0.95">
<line x1="479.8" y1="64.2" x2="479.8" y2="143.2"/>
<path d="M479.8,115.2 L477.9,102.7 L481.7,102.7 Z" fill="#111" stroke="#111" stroke-width="0.4"/>
<path d="M479.8,121.9 L481.7,134.4 L477.9,134.4 Z" fill="#111" stroke="#111" stroke-width="0.4"/>
<line x1="472.3" y1="115.2" x2="510.5" y2="115.2"/>
<line x1="472.3" y1="121.9" x2="510.5" y2="121.9"/>
<line x1="488.5" y1="76.7" x2="554.3" y2="76.7"/>
<path d="M509.5,76.7 L496.0,78.6 L496.0,74.8 Z" fill="#111" stroke="#111" stroke-width="0.4"/>
<path d="M519.3,76.7 L532.8,74.8 L532.8,78.6 Z" fill="#111" stroke="#111" stroke-width="0.4"/>
<line x1="509.5" y1="70.3" x2="509.5" y2="117.8"/>
<line x1="519.3" y1="70.3" x2="519.3" y2="117.8"/>
<line x1="559.8" y1="76.7" x2="642.5" y2="76.7"/>
<path d="M559.8,76.7 L572.8,74.8 L572.8,78.6 Z" fill="#111" stroke="#111" stroke-width="0.4"/>
<path d="M642.5,76.7 L629.5,78.6 L629.5,74.8 Z" fill="#111" stroke="#111" stroke-width="0.4"/>
<line x1="559.8" y1="70.3" x2="559.8" y2="160"/>
<line x1="642.5" y1="70.3" x2="642.5" y2="160"/>
<line x1="690" y1="118.9" x2="757.6" y2="118.9"/>
<line x1="681" y1="293.1" x2="757.6" y2="293.1"/>
<line x1="750.9" y1="118.9" x2="750.9" y2="293.1"/>
<path d="M750.9,118.9 L752.8,132.4 L749.0,132.4 Z" fill="#111" stroke="#111" stroke-width="0.4"/>
<path d="M750.9,293.1 L749.0,279.6 L752.8,279.6 Z" fill="#111" stroke="#111" stroke-width="0.4"/>
<line x1="635.4" y1="164.6" x2="737.7" y2="164.6"/>
<line x1="635.4" y1="247.2" x2="737.7" y2="247.2"/>
<line x1="731.6" y1="164.6" x2="731.6" y2="247.2"/>
<path d="M731.6,164.6 L733.5,178.1 L729.7,178.1 Z" fill="#111" stroke="#111" stroke-width="0.4"/>
<path d="M731.6,247.2 L729.7,233.7 L733.5,233.7 Z" fill="#111" stroke="#111" stroke-width="0.4"/>
<line x1="514.4" y1="299" x2="514.4" y2="340.9"/>
<line x1="688.1" y1="299" x2="688.1" y2="340.9"/>
<line x1="514.4" y1="334.6" x2="688.1" y2="334.6"/>
<path d="M514.4,334.6 L527.9,332.7 L527.9,336.5 Z" fill="#111" stroke="#111" stroke-width="0.4"/>
<path d="M688.1,334.6 L674.6,336.5 L674.6,332.7 Z" fill="#111" stroke="#111" stroke-width="0.4"/>
<path d="M465.2,199 H500.6 L556.9,166.6"/>
<path d="M556.9,166.6 L546.6,175.2 L544.4,171.4 Z" fill="#111" stroke="#111" stroke-width="0.4"/>
</g>
<g id="dimtext" opacity="0.99" stroke="none" fill="#4a4a4a" font-family="&quot;Liberation Sans&quot;,sans-serif" font-size="12.4">
<text x="529" y="74" textLength="20.2" lengthAdjust="spacingAndGlyphs">5.90</text>
<text x="588.7" y="74" textLength="25.2" lengthAdjust="spacingAndGlyphs">50.10</text>
<text x="476.2" y="89.5" textLength="20.3" lengthAdjust="spacingAndGlyphs" transform="rotate(-90 476.2 89.5)">3.90</text>
<text x="728" y="217.8" textLength="24.3" lengthAdjust="spacingAndGlyphs" transform="rotate(-90 728 217.8)">50.10</text>
<text x="747.8" y="220" textLength="28.4" lengthAdjust="spacingAndGlyphs" transform="rotate(-90 747.8 220)">105.30</text>
<text x="594.2" y="331.2" textLength="14.4" lengthAdjust="spacingAndGlyphs">105</text>
<text x="483.4" y="196.6" textLength="5.2" lengthAdjust="spacingAndGlyphs">4</text>
</g>
<g opacity="0.99" stroke="none" fill="#4a4a4a" font-family="&quot;Liberation Sans&quot;,sans-serif"><text x="472.2" y="196.4" font-size="11.6" font-style="italic" textLength="9.6" lengthAdjust="spacingAndGlyphs">Ø</text></g>
</g>
</svg>
</body></html>
